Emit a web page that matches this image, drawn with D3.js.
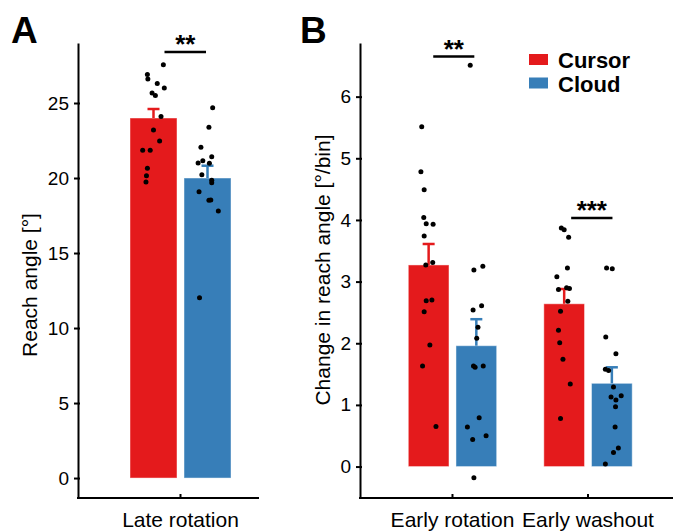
<!DOCTYPE html>
<html>
<head>
<meta charset="utf-8">
<script src="https://cdn.jsdelivr.net/npm/d3@7"></script>
<style>
	body { margin: 0; background: #fff; }
	text { font-family: "Liberation Sans", Arial, sans-serif; }
</style>
</head>
<body>
<svg id="chart"></svg>
<script>
const conditions = ["Cursor", "Cloud"];
const colors = ["#e41a1c", "#377eb8"];

// panel A
const groupsA = ["Late rotation"];
const meanA = [[24.0, 20.0]];
const semA = [[0.6, 0.82]];
const ticksA = [0, 5, 10, 15, 20, 25];
const lateCursor = [27.55, 26.9, 26.6, 26.3, 26.0, 25.67, 25.5, 24.1, 23.2, 22.47, 21.85, 21.85, 20.65, 20.15, 19.73];
const lateCursorJitter = [0.21, -0.13, -0.12, 0.08, 0.23, -0.03, 0.04, 0.16, 0, 0.13, -0.23, -0.07, -0.13, -0.15, -0.16];
const lateCloud = [24.69, 23.38, 22.05, 21.42, 21.15, 21.0, 20.98, 20.22, 19.85, 19.69, 19.09, 18.51, 18.53, 17.8, 12.02];
const lateCloudJitter = [0.11, 0.03, -0.14, 0.09, -0.10, -0.20, 0.04, -0.12, 0.09, 0.09, -0.18, 0.03, 0.07, 0.23, -0.17];

// panel B
const groupsB = ["Early rotation", "Early washout"];
const meanB = [[3.27, 1.96], [2.64, 1.35]];
const semB = [[0.34, 0.43], [0.24, 0.26]];
const ticksB = [0, 1, 2, 3, 4, 5, 6];
const rotCursor = [5.51, 4.78, 4.49, 4.04, 3.94, 3.93, 3.74, 3.27, 3.31, 2.69, 2.70, 2.51, 1.97, 1.63, 0.65];
const rotCursorJitter = [-0.17, -0.19, -0.11, -0.12, -0.06, 0.11, -0.11, -0.07, 0.10, -0.06, 0.08, -0.11, 0.03, -0.15, 0.18];
const rotCloud = [6.51, 3.25, 3.19, 2.61, 2.54, 2.26, 2.08, 1.63, 1.61, 1.63, 0.79, 0.64, 0.50, 0.44, -0.18];
const rotCloudJitter = [-0.15, 0.16, -0.06, 0.13, -0.08, 0.04, 0.01, -0.07, -0.03, 0.17, 0.07, -0.22, 0.24, -0.09, -0.06];
const washCursor = [3.87, 3.84, 3.72, 3.22, 3.08, 2.87, 2.90, 2.89, 2.68, 2.52, 2.21, 2.01, 1.74, 1.34, 0.78];
const washCursorJitter = [-0.07, 0, 0.11, 0.08, -0.18, -0.14, 0.06, 0.13, 0.09, -0.09, -0.14, -0.11, -0.03, 0.15, -0.09];
const washCloud = [3.22, 3.21, 2.10, 1.83, 1.58, 1.56, 1.29, 1.15, 1.13, 1.08, 0.97, 0.64, 0.30, 0.23, 0.04];
const washCloudJitter = [-0.13, 0.01, -0.15, 0.10, -0.16, -0.08, 0.04, 0.23, -0.02, 0.10, 0.09, 0.08, 0.16, 0.04, -0.16];

const W = 673, H = 532;
const svg = d3.select("#chart").attr("width", W).attr("height", H);

function drawPanel(p) {
	const y = d3.scaleLinear().domain(p.yDomain).range([498, 43]);

	const xGroup = d3.scaleBand()
		.domain(p.groups)
		.range(p.barRange)
		.paddingInner(p.groupPadding)
		.paddingOuter(0);

	const xSub = d3.scaleBand()
		.domain(conditions)
		.range([0, xGroup.bandwidth()])
		.paddingInner(p.subPadding);

	const g = svg.append("g");

	// bars, error bars, dots
	p.groups.forEach((grp, gi) => {
		conditions.forEach((c, ci) => {
			let x0 = xGroup(grp) + xSub(c);
			let bw = xSub.bandwidth();
			let cx = x0 + bw / 2;
			let m = p.means[gi][ci];
			let top = m + p.sems[gi][ci];

			g.append("rect")
				.attr("x", x0)
				.attr("y", y(m))
				.attr("width", bw)
				.attr("height", y(0) - y(m))
				.attr("fill", colors[ci])
				.attr("stroke", "#fff")
				.attr("stroke-opacity", 0.45)
				.attr("stroke-width", 1);

			g.append("line")
				.attr("x1", cx).attr("x2", cx)
				.attr("y1", y(m)).attr("y2", y(top))
				.attr("stroke", colors[ci])
				.attr("stroke-width", 2.5);
			g.append("line")
				.attr("x1", cx - 6).attr("x2", cx + 6)
				.attr("y1", y(top)).attr("y2", y(top))
				.attr("stroke", colors[ci])
				.attr("stroke-width", 2.5);

			let pts = p.points[gi][ci];
			let jit = p.jitter[gi][ci];
			g.selectAll(null)
				.data(pts)
				.join("circle")
				.attr("cx", (d, i) => cx + jit[i] * bw)
				.attr("cy", d => y(d))
				.attr("r", 2.5)
				.attr("fill", "#000");
		});

		// significance bar
		let s = p.sig[gi];
		if (s) {
			let xa = xGroup(grp) + xSub("Cursor") + xSub.bandwidth() / 2 + s.dx[0];
			let xb = xGroup(grp) + xSub("Cloud") + xSub.bandwidth() / 2 + s.dx[1];
			g.append("line")
				.attr("x1", xa).attr("x2", xb)
				.attr("y1", y(s.at)).attr("y2", y(s.at))
				.attr("stroke", "#000")
				.attr("stroke-width", 2.5);
			g.append("text")
				.text(s.label)
				.attr("x", (xa + xb) / 2)
				.attr("y", y(s.at) + 1)
				.attr("text-anchor", "middle")
				.attr("font-weight", "bold")
				.attr("font-size", 26);
		}
	});

	// y axis
	const yAxis = g.append("g")
		.attr("transform", `translate(${p.axisX},0)`)
		.call(d3.axisLeft(y).tickValues(p.ticks).tickSizeInner(4).tickSizeOuter(0).tickPadding(5));
	yAxis.select(".domain").attr("stroke-width", 2);
	yAxis.selectAll(".tick line").attr("stroke-width", 2).attr("x2", -4).attr("x1", 2);
	yAxis.selectAll(".tick text").attr("font-size", 19).attr("font-family", null);

	// x axis
	const xAxis = g.append("g")
		.attr("transform", "translate(0,498)")
		.call(d3.axisBottom(xGroup).tickSize(-4).tickPadding(14));
	xAxis.select(".domain").remove();
	xAxis.append("line")
		.attr("x1", p.axisX - 1).attr("x2", p.axisEnd)
		.attr("stroke", "#000")
		.attr("stroke-width", 2);
	xAxis.selectAll(".tick line").attr("stroke-width", 2);
	xAxis.selectAll(".tick text").attr("font-size", 21).attr("font-family", null);

	g.append("text")
		.text(p.yTitle)
		.attr("transform", `translate(${p.titleX},${p.titleY}) rotate(-90)`)
		.attr("text-anchor", "middle")
		.attr("dy", "0.35em")
		.attr("font-size", 21);

	g.append("text")
		.text(p.letter)
		.attr("x", p.letterX)
		.attr("y", 43)
		.attr("font-weight", "bold")
		.attr("font-size", 37);
}

drawPanel({
	groups: groupsA,
	means: meanA,
	sems: semA,
	points: [[lateCursor, lateCloud]],
	jitter: [[lateCursorJitter, lateCloudJitter]],
	ticks: ticksA,
	yDomain: [-1.33, 29],
	barRange: [130, 231],
	groupPadding: 0,
	subPadding: 0.13,
	axisX: 78,
	axisEnd: 259,
	yTitle: "Reach angle [°]",
	titleX: 30,
	titleY: 285,
	letter: "A",
	letterX: 11,
	sig: [{at: 28.4, label: "**", dx: [11, -1.5]}]
});

drawPanel({
	groups: groupsB,
	means: meanB,
	sems: semB,
	points: [[rotCursor, rotCloud], [washCursor, washCloud]],
	jitter: [[rotCursorJitter, rotCloudJitter], [washCursorJitter, washCloudJitter]],
	ticks: ticksB,
	yDomain: [-0.51, 6.87],
	barRange: [408.3, 632.2],
	groupPadding: 0.348,
	subPadding: 0.147,
	axisX: 360,
	axisEnd: 673,
	yTitle: "Change in reach angle [°/bin]",
	titleX: 323,
	titleY: 270,
	letter: "B",
	letterX: 300,
	sig: [{at: 6.65, label: "**", dx: [4.6, -2]}, {at: 4.03, label: "***", dx: [7, 0.6]}]
});

// legend
const legend = svg.append("g").attr("transform", "translate(529,54)");
conditions.forEach((c, i) => {
	legend.append("rect")
		.attr("x", 0)
		.attr("y", i * 23.5)
		.attr("width", 19)
		.attr("height", 11)
		.attr("fill", colors[i]);
	legend.append("text")
		.text(c)
		.attr("x", 29)
		.attr("y", i * 23.5 + 14)
		.attr("font-weight", "bold")
		.attr("font-size", 22);
});
</script>
</body>
</html>
